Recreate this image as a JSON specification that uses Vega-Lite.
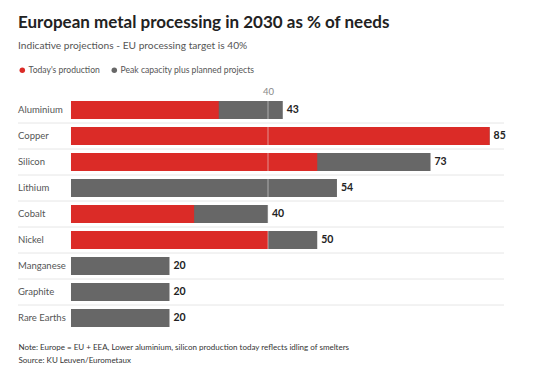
{
  "$schema": "https://vega.github.io/schema/vega-lite/v6.json",
  "width": 486,
  "height": 234,
  "autosize": {"type": "none"},
  "padding": {"top": 97, "left": 18, "right": 37, "bottom": 55},
  "background": "white",
  "config": {
    "font": "Lato",
    "view": {"stroke": null}
  },
  "title": {
    "text": "European metal processing in 2030 as % of needs",
    "subtitle": "Indicative projections - EU processing target is 40%",
    "anchor": "start",
    "frame": "group",
    "fontSize": 17,
    "fontWeight": "bold",
    "color": "#222222",
    "subtitleFontSize": 10.2,
    "subtitleColor": "#555555",
    "subtitlePadding": 9,
    "offset": 14
  },
  "data": {
    "values": [
      {"metal": "Aluminium", "production": 30, "capacity": 43, "sep": true, "line40": true},
      {"metal": "Copper", "production": 85, "capacity": 85, "sep": true, "line40": true},
      {"metal": "Silicon", "production": 50, "capacity": 73, "sep": true, "line40": true},
      {"metal": "Lithium", "production": 0, "capacity": 54, "sep": true, "line40": true},
      {"metal": "Cobalt", "production": 25, "capacity": 40, "sep": true, "line40": true},
      {"metal": "Nickel", "production": 40, "capacity": 50, "sep": true, "line40": true},
      {"metal": "Manganese", "production": 0, "capacity": 20, "sep": true, "line40": false},
      {"metal": "Graphite", "production": 0, "capacity": 20, "sep": true, "line40": false},
      {"metal": "Rare Earths", "production": 0, "capacity": 20, "sep": false, "line40": false}
    ]
  },
  "resolve": {"axis": {"x": "independent"}},
  "layer": [
    {
      "transform": [{"filter": "datum.sep"}],
      "mark": {"type": "rule", "color": "#e6e6e6", "strokeWidth": 1, "yOffset": 13},
      "encoding": {
        "y": {"field": "metal", "type": "nominal", "sort": null,
              "scale": {"paddingInner": 0.3, "paddingOuter": 0.15}, "axis": null}
      }
    },
    {
      "mark": {"type": "bar"},
      "encoding": {
        "y": {"field": "metal", "type": "nominal", "sort": null},
        "x": {"field": "capacity", "type": "quantitative",
              "scale": {"domain": [-10.76, 87.92], "nice": false, "zero": false},
              "axis": {"orient": "bottom", "labels": false, "ticks": false, "domain": false, "grid": false,
                       "title": ["Note: Europe = EU + EEA, Lower aluminium, silicon production today reflects idling of smelters", "Source: KU Leuven/Eurometaux"],
                       "titleAnchor": "start", "titleAlign": "left", "titleX": 0, "titleY": 12,
                       "titleBaseline": "top", "titleLineHeight": 13, "titleFontSize": 8,
                       "titleFontWeight": "normal", "titleColor": "#333333"}},
        "color": {"datum": "Peak capacity plus planned projects", "type": "nominal",
                  "scale": {"domain": ["Today's production", "Peak capacity plus planned projects"],
                            "range": ["#db2b27", "#676767"]},
                  "legend": {"orient": "none", "legendX": 0, "legendY": -31, "direction": "horizontal",
                             "title": null, "symbolType": "circle", "symbolSize": 30,
                             "labelFontSize": 8.6, "labelColor": "#555555", "columnPadding": 10, "labelOffset": 2}}
      }
    },
    {
      "transform": [{"filter": "datum.production > 0"}],
      "mark": {"type": "bar"},
      "encoding": {
        "y": {"field": "metal", "type": "nominal", "sort": null},
        "x": {"field": "production", "type": "quantitative",
              "axis": {"orient": "top", "values": [40], "ticks": false, "domain": false, "grid": false,
                       "labelColor": "#888888", "labelFontSize": 9.5, "labelPadding": 1, "title": null}},
        "color": {"datum": "Today's production", "type": "nominal"}
      }
    },
    {
      "transform": [{"filter": "datum.line40"}],
      "mark": {"type": "tick", "color": "#e8e8e8", "opacity": 0.55, "thickness": 1, "size": 18},
      "encoding": {
        "x": {"datum": 40, "type": "quantitative", "axis": null},
        "y": {"field": "metal", "type": "nominal", "sort": null}
      }
    },
    {
      "mark": {"type": "text", "align": "left", "dx": 4, "fontWeight": "bold", "fontSize": 10.5, "color": "#222222"},
      "encoding": {
        "y": {"field": "metal", "type": "nominal", "sort": null},
        "x": {"field": "capacity", "type": "quantitative", "axis": null},
        "text": {"field": "capacity", "type": "quantitative"}
      }
    },
    {
      "mark": {"type": "text", "align": "left", "fontSize": 9.5, "color": "#555555"},
      "encoding": {
        "y": {"field": "metal", "type": "nominal", "sort": null},
        "x": {"datum": -10.76, "type": "quantitative", "axis": null},
        "text": {"field": "metal", "type": "nominal"}
      }
    }
  ]
}
